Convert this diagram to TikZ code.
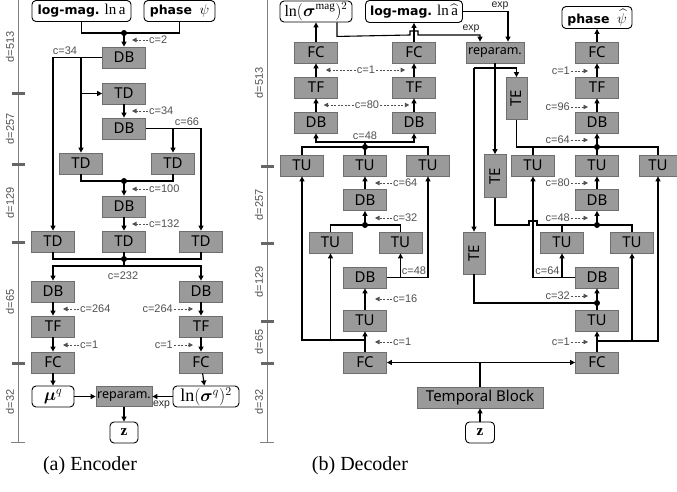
\documentclass[tikz,border=0pt]{standalone}
\usepackage{fontspec}
\setmainfont{Liberation Serif}
\newfontfamily\blkfont{Noto Sans}
\newfontfamily\hdrfont{DejaVu Sans}
\newfontfamily\lblfont{Liberation Sans}
\usepackage{amsmath,bm,graphicx}
\usetikzlibrary{arrows.meta, positioning}

\definecolor{blkgray}{RGB}{154,154,154}
\definecolor{blkline}{RGB}{110,110,110}
\definecolor{lblgray}{RGB}{80,80,80}
\newcommand{\hdrtxt}[1]{{\hdrfont\bfseries\fontsize{12.5}{15}\selectfont #1}}

\begin{document}
\begin{tikzpicture}[
    x=1pt, y=-1pt,
    block/.style={
      draw=blkline,
      fill=blkgray,
      line width=0.8pt,
      minimum width=43pt,
      minimum height=21pt,
      inner sep=0pt,
      font=\blkfont\fontsize{15}{18}\selectfont
    },
    smallblock/.style={block, font=\blkfont\fontsize{12.5}{15}\selectfont},
    iobox/.style={
      draw,
      fill=white,
      rounded corners=4pt,
      line width=0.9pt,
      minimum height=20pt,
      inner sep=2pt,
      font=\fontsize{15}{18}\selectfont
    },
    clbl/.style={font=\lblfont\fontsize{11}{13}\selectfont, text=lblgray, inner sep=1pt},
    explbl/.style={font=\lblfont\fontsize{10.5}{12}\selectfont, text=black!85, inner sep=1pt},
    dimlbl/.style={clbl, rotate=90},
    flow/.style={line width=1.1pt, -{Triangle[length=5pt,width=5pt]}},
    flowboth/.style={line width=1.1pt, {Triangle[length=5pt,width=5pt]}-{Triangle[length=5pt,width=5pt]}},
    wire/.style={line width=1.1pt},
    cptr/.style={draw=lblgray, line width=0.8pt, dash pattern=on 2pt off 1.5pt, -{Triangle[length=4.5pt,width=4.5pt]}},
    axis/.style={draw=gray, line width=1pt},
    tickbar/.style={draw=gray!80!black, line width=3pt}
  ]
    \useasboundingbox (0,0) rectangle (677,492);

    % depth axes
    \draw[axis] (18,0) -- (18,442) (11,442) -- (25,442);
    \draw[axis] (267,0) -- (267,442) (260,442) -- (274,442);
    \foreach \y in {94,164,242,363} \draw[tickbar] (12,\y) -- (25,\y);
    \foreach \y in {166,243,321,363} \draw[tickbar] (261,\y) -- (274,\y);
    \foreach \y/\d in {47/513, 129/257, 203/129, 302/65, 402/32}
      \node[dimlbl] at (10,\y) {d=\d};
    \foreach \y/\d in {83/513, 205/257, 282/129, 342/65, 402/32}
      \node[dimlbl] at (259,\y) {d=\d};

    % encoder
    \node[iobox, minimum width=99pt, minimum height=21pt] (eMag) at (81.5,11) {\hdrtxt{log-mag.} $\ln\mathrm{a}$};
    \node[iobox, minimum width=71pt, minimum height=21pt] (ePha) at (179.5,11) {\hdrtxt{phase}\enspace$\psi$};
    \node[block] (eDB1) at (124,57.5) {DB};
    \node[block] (eTD1) at (124,93.5) {TD};
    \node[block] (eDB2) at (124,128.5) {DB};
    \node[block] (eTD2) at (81,163.5) {TD};
    \node[block] (eTD3) at (173,163.5) {TD};
    \node[block] (eDB3) at (124,206.5) {DB};
    \node[block] (eTD4) at (53,241.5) {TD};
    \node[block] (eTD5) at (124,241.5) {TD};
    \node[block] (eTD6) at (201,241.5) {TD};
    \node[block] (eDB4) at (53,291.5) {DB};
    \node[block] (eDB5) at (201,291.5) {DB};
    \node[block] (eTF1) at (53,326.5) {TF};
    \node[block] (eTF2) at (201,326.5) {TF};
    \node[block] (eFC1) at (53,362.5) {FC};
    \node[block] (eFC2) at (201,362.5) {FC};
    \node[iobox, minimum width=42pt, minimum height=21pt, font=\fontsize{18}{20}\selectfont] (eMu) at (53,396.5) {$\bm{\mu}^q$};
    \node[smallblock, minimum width=56pt, minimum height=20pt] (eRep) at (124,396.5) {reparam.};
    \node[iobox, minimum width=66pt, minimum height=21pt, inner sep=1pt, font=\fontsize{18}{20}\selectfont] (eSig) at (206,396.5) {$\ln(\bm{\sigma}^q)^2$};
    \node[iobox, minimum width=28pt, minimum height=21pt] (eZ) at (124,432.5) {$\mathbf{z}$};

    \coordinate (j0) at (124,33);
    \coordinate (j1) at (124,181);
    \coordinate (j2) at (124,259);
    \coordinate (j2b) at (124,266);

    \draw[wire] (eMag.south) |- (j0);
    \draw[wire] (ePha.south) |- (j0);
    \draw[flow] (j0) -- (eDB1.north);
    \draw[flow] (eDB1.west) -| (eTD4.north);
    \draw[flow] (eDB1.west -| eTD2.north) -- (eTD2.north);
    \draw[flow] (eTD2.north |- eTD1.west) -- (eTD1.west);
    \draw[flow] (eTD1) -- (eDB2);
    \draw[flow] (eDB2.east) -| (eTD6.north);
    \draw[flow] (eDB2.east -| eTD3.north) -- (eTD3.north);
    \draw[wire] (eTD2.south) |- (j1);
    \draw[wire] (eTD3.south) |- (j1);
    \draw[flow] (j1) -- (eDB3.north);
    \draw[flow] (eDB3) -- (eTD5);
    \draw[wire] (eTD4.south) |- (j2);
    \draw[wire] (eTD6.south) |- (j2);
    \draw[wire] (eTD5.south) -- (j2) -- (j2b);
    \draw[flow] (j2b) -| (eDB4.north);
    \draw[flow] (j2b) -| (eDB5.north);
    \draw[flow] (eDB4) -- (eTF1);
    \draw[flow] (eTF1) -- (eFC1);
    \draw[flow] (eFC1) -- (eMu);
    \draw[flow] (eDB5) -- (eTF2);
    \draw[flow] (eTF2) -- (eFC2);
    \draw[flow] (eFC2) -- (eSig);
    \draw[flow] (eMu) -- (eRep);
    \draw[flow] (eSig) -- (eRep);
    \draw[flow] (eRep) -- (eZ);
    \node[explbl] (eExp) at (161.5,405) {exp};

    \node[clbl, anchor=west] (cE1) at (148,40) {c=2};
    \node[clbl] (cE2) at (65,51) {c=34};
    \node[clbl, anchor=west] (cE3) at (148,111) {c=34};
    \node[clbl] (cE4) at (187,122) {c=66};
    \node[clbl, anchor=west] (cE5) at (148,189) {c=100};
    \node[clbl, anchor=west] (cE6) at (148,224) {c=132};
    \node[clbl] (cE7) at (123,276) {c=232};
    \node[clbl, anchor=west] (cE8) at (79,309) {c=264};
    \node[clbl, anchor=west] (cE9) at (79,345) {c=1};
    \node[clbl, anchor=east] (cE10) at (174,309) {c=264};
    \node[clbl, anchor=east] (cE11) at (174,345) {c=1};
    \foreach \c in {cE1,cE3,cE5,cE6} \draw[cptr] (\c.west) -- ++(-16,0);
    \foreach \c in {cE8,cE9} \draw[cptr] (\c.west) -- ++(-16,0);
    \foreach \c in {cE10,cE11} \draw[cptr] (\c.east) -- ++(19,0);

    % decoder
    \node[iobox, minimum width=72pt, minimum height=21pt, inner sep=1pt, font=\fontsize{16}{18}\selectfont] (dSig) at (316,11.5) {$\ln(\bm{\sigma}^{\mathrm{mag}})^2$};
    \node[iobox, minimum width=97pt, minimum height=22pt] (dMag) at (414,11.5) {\hdrtxt{log-mag.} $\ln\widehat{\mathrm{a}}$};
    \node[iobox, minimum width=70pt, minimum height=22pt] (dPha) at (597,17.5) {\hdrtxt{phase}\enspace$\widehat{\psi}$};
    \node[smallblock, minimum width=58pt] (dRep) at (495,52.5) {reparam.};
    \node[block] (dFC1) at (316,52.5) {FC};
    \node[block] (dFC2) at (414,52.5) {FC};
    \node[block] (dFC5) at (597,52.5) {FC};
    \node[block] (dTF1) at (316,87.5) {TF};
    \node[block] (dTF2) at (414,87.5) {TF};
    \node[block] (dTF3) at (597,87.5) {TF};
    \node[block] (dDB1) at (316,122.5) {DB};
    \node[block] (dDB2) at (414,122.5) {DB};
    \node[block] (dDB5) at (597,122.5) {DB};
    \node[block, minimum width=21pt, minimum height=42pt] (dTE1) at (516.5,98.5) {\rotatebox{90}{TE}};
    \node[block, minimum width=22pt, minimum height=43pt] (dTE2) at (495,176) {\rotatebox{90}{TE}};
    \node[block, minimum width=22pt, minimum height=42pt] (dTE3) at (474,253) {\rotatebox{90}{TE}};
    \node[block] (dTU1) at (302,165.5) {TU};
    \node[block] (dTU2) at (365,165.5) {TU};
    \node[block] (dTU3) at (428,165.5) {TU};
    \node[block] (dTU7) at (533,165.5) {TU};
    \node[block] (dTU8) at (597,165.5) {TU};
    \node[block, minimum width=38pt] (dTU9) at (658,165.5) {TU};
    \node[block] (dDB3) at (365,200) {DB};
    \node[block] (dDB6) at (597,200) {DB};
    \node[block] (dTU4) at (330.5,242.5) {TU};
    \node[block] (dTU5) at (400.5,242.5) {TU};
    \node[block] (dTU10) at (562,242.5) {TU};
    \node[block] (dTU11) at (632,242.5) {TU};
    \node[block] (dDB4) at (365,277.5) {DB};
    \node[block] (dDB7) at (597,277.5) {DB};
    \node[block] (dTU6) at (365,320.5) {TU};
    \node[block] (dTU12) at (597,320.5) {TU};
    \node[block] (dFC3) at (365,362.5) {FC};
    \node[block] (dFC4) at (597,362.5) {FC};
    \node[block, minimum width=126pt] (dTB) at (480,397.5) {Temporal Block};
    \node[iobox, minimum width=29pt, minimum height=21pt] (dZ) at (480,432.5) {$\mathbf{z}$};

    \coordinate (k1) at (365,147);
    \coordinate (k1b) at (365,142);
    \coordinate (k2) at (365,225);
    \coordinate (k6) at (365,340);
    \coordinate (k3) at (597,147);
    \coordinate (k4) at (597,225);
    \coordinate (k5) at (597,303);
    \coordinate (k7) at (597,341);
    \coordinate (r0) at (495,68);

    % latent to both branches
    \draw[flow] (dZ) -- (dTB);
    \draw[wire] (dTB.north) -- (dTB.north |- dFC3.east);
    \draw[flowboth] (dFC3) -- (dFC4);

    % magnitude branch
    \draw[flow] (dFC3) -- (dTU6);
    \draw[flow] (k6) -| (dTU1.south);
    \draw[flow] (k6 -| dTU4.south) -- (dTU4.south);
    \draw[flow] (dTU6) -- (dDB4);
    \draw[flow] (dDB4.east) -| (dTU3.south);
    \draw[flow] (dDB4.east -| dTU5.south) -- (dTU5.south);
    \draw[wire] (dTU4.north) |- (k2);
    \draw[wire] (dTU5.north) |- (k2);
    \draw[flow] (k2) -- (dDB3.south);
    \draw[flow] (dDB3) -- (dTU2);
    \draw[wire] (dTU1.north) |- (k1);
    \draw[wire] (dTU3.north) |- (k1);
    \draw[wire] (dTU2.north) -- (k1) -- (k1b);
    \draw[flow] (k1b) -| (dDB1.south);
    \draw[flow] (k1b) -| (dDB2.south);
    \draw[flow] (dDB1) -- (dTF1);
    \draw[flow] (dTF1) -- (dFC1);
    \draw[flow] (dFC1) -- (dSig);
    \draw[flow] (dDB2) -- (dTF2);
    \draw[flow] (dTF2) -- (dFC2);
    \draw[flow] (dFC2) -- (dMag);

    % reparametrisation
    \draw[flow] (dMag.east) -| ([xshift=13pt]dRep.north);
    \draw[flow] ([xshift=21pt]dSig.south) -- ++(0,14) -- (410,35) -- ++(0,-4) -- ++(8,0) -- ++(0,4) -| ([xshift=-15pt]dRep.north);
    \node[explbl] (dExp1) at (500,6) {exp};
    \node[explbl] (dExp2) at (471,29) {exp};
    \draw[flow] (dRep) -- (dTE2);
    \draw[flow] (dTE3.north |- r0) -| (dTE1.north);
    \draw[flow] (dTE3.north |- r0) -- (dTE3.north);

    % phase branch
    \draw[flow] (dFC4) -- (dTU12);
    \draw[flow] (k7) -| (dTU9.south);
    \draw[flow] (k7 -| dTU11.south) -- (dTU11.south);
    \draw[wire] (dTE3.south) |- (k5);
    \draw[wire] (dTU12.north) -- (k5);
    \draw[flow] (k5) -- (dDB7.south);
    \draw[flow] (dDB7.west) -| (dTU7.south);
    \draw[flow] (dDB7.west -| dTU10.south) -- (dTU10.south);
    \draw[wire] (dTE2.south) |- (529,225) -- ++(0,-4) -- ++(8,0) -- ++(0,4) -- (k4);
    \draw[wire] (dTU10.north) -- (dTU10.north |- k4);
    \draw[wire] (dTU11.north) |- (k4);
    \draw[flow] (k4) -- (dDB6.south);
    \draw[flow] (dDB6) -- (dTU8);
    \draw[wire] (dTE1.south) |- (k3);
    \draw[wire] (dTU7.north) -- (dTU7.north |- k3);
    \draw[wire] (dTU9.north) |- (k3);
    \draw[wire] (dTU8.north) -- (k3);
    \draw[flow] (k3) -- (dDB5.south);
    \draw[flow] (dDB5) -- (dTF3);
    \draw[flow] (dTF3) -- (dFC5);
    \draw[flow] (dFC5) -- (dPha);

    \foreach \j in {j0,j1,j2,k1,k2,k3,k4,k5} \fill (\j) circle (3pt);

    \node[clbl] (cD1) at (366,70) {c=1};
    \node[clbl] (cD2) at (367,105) {c=80};
    \node[clbl] (cD3) at (365,136) {c=48};
    \draw[cptr] (cD1.west) -- ++(-30,0);
    \draw[cptr] (cD1.east) -- ++(29,0);
    \draw[cptr] (cD2.west) -- ++(-30,0);
    \draw[cptr] (cD2.east) -- ++(29,0);
    \node[clbl, anchor=west] (cD4) at (392,183) {c=64};
    \node[clbl, anchor=west] (cD5) at (392,218) {c=32};
    \node[clbl] (cD6) at (414,271) {c=48};
    \node[clbl, anchor=west] (cD7) at (392,299) {c=16};
    \node[clbl, anchor=west] (cD8) at (392,342) {c=1};
    \foreach \c in {cD4,cD5,cD7,cD8} \draw[cptr] (\c.west) -- ++(-17,0);
    \node[clbl, anchor=east] (cD9) at (571,71) {c=1};
    \node[clbl, anchor=east] (cD10) at (571,107) {c=96};
    \node[clbl, anchor=east] (cD11) at (571,140) {c=64};
    \node[clbl, anchor=east] (cD12) at (571,183) {c=80};
    \node[clbl, anchor=east] (cD13) at (571,218) {c=48};
    \node[clbl] (cD14) at (547.5,271) {c=64};
    \node[clbl, anchor=east] (cD15) at (571,296) {c=32};
    \node[clbl, anchor=east] (cD16) at (571,342) {c=1};
    \foreach \c in {cD9,cD10,cD11,cD12,cD13,cD15,cD16} \draw[cptr] (\c.east) -- ++(17,0);

    % captions
    \node[font=\fontsize{20}{24}\selectfont] (capA) at (90,466) {(a) Encoder};
    \node[font=\fontsize{20}{24}\selectfont] (capB) at (360,466) {(b) Decoder};
  \end{tikzpicture}
\end{document}
